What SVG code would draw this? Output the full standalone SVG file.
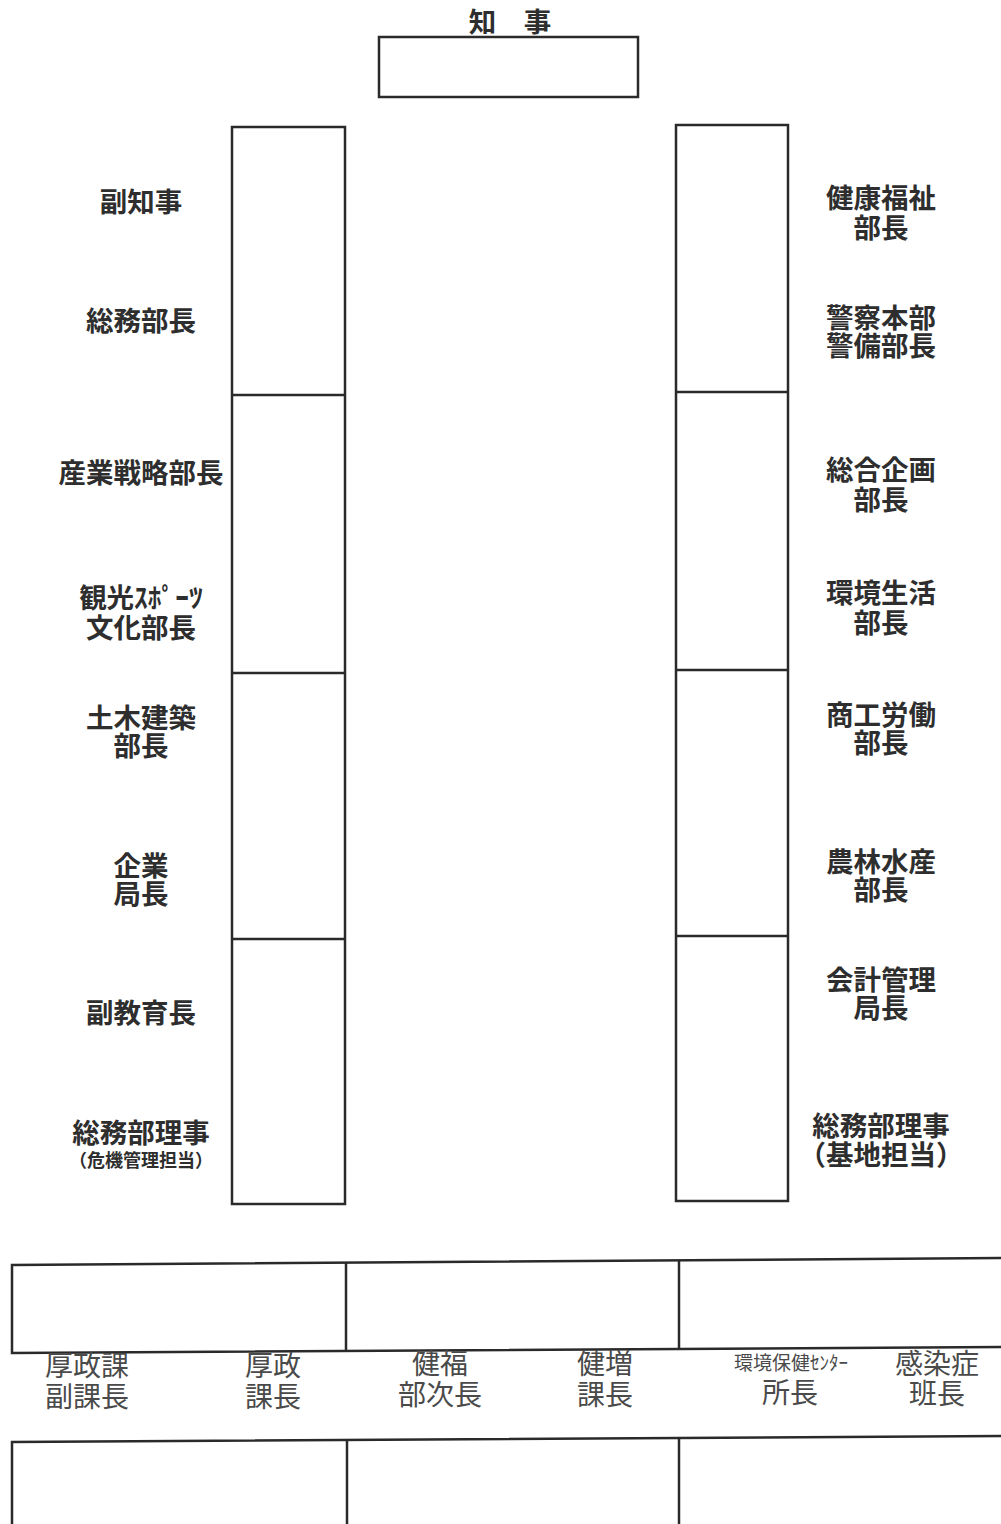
<svg xmlns="http://www.w3.org/2000/svg" width="1001" height="1524" viewBox="0 0 1001 1524">
<style>
.box{fill:none;stroke:#2a2a2a;stroke-width:2.5}
.ln{stroke:#2a2a2a;stroke-width:2.5}
.t{font-family:"Noto Sans CJK JP","Noto Sans",sans-serif;font-size:27.5px;font-weight:700;fill:#2e2e2e;text-anchor:middle}
.s{font-size:18px}
.b{font-family:"Noto Sans CJK JP","Noto Sans",sans-serif;font-size:28px;font-weight:400;fill:#4a4a4a;text-anchor:middle}
.bs{font-size:19px}
</style>
<rect width="1001" height="1524" fill="#fff"/>
<g id="governor">
<text class="t" x="510" y="32">知　事</text>
<rect class="box" x="379" y="37" width="259" height="60"/>
</g>
<g id="left-column">
<rect class="box" x="232" y="127" width="113" height="1077"/>
<line class="ln" x1="232" y1="395" x2="345" y2="395"/>
<line class="ln" x1="232" y1="673" x2="345" y2="673"/>
<line class="ln" x1="232" y1="939" x2="345" y2="939"/>
</g>
<g id="right-column">
<rect class="box" x="676" y="125" width="112" height="1076"/>
<line class="ln" x1="676" y1="392" x2="788" y2="392"/>
<line class="ln" x1="676" y1="670" x2="788" y2="670"/>
<line class="ln" x1="676" y1="936" x2="788" y2="936"/>
</g>
<g id="left-labels">
<text class="t" x="141" y="212">副知事</text>
<text class="t" x="141" y="331">総務部長</text>
<text class="t" x="141" y="483">産業戦略部長</text>
<text class="t" x="141" y="608">観光ｽﾎﾟｰﾂ<tspan x="141" dy="30">文化部長</tspan></text>
<text class="t" x="141" y="728">土木建築<tspan x="141" dy="28">部長</tspan></text>
<text class="t" x="141" y="876">企業<tspan x="141" dy="28">局長</tspan></text>
<text class="t" x="141" y="1023">副教育長</text>
<text class="t" x="141" y="1143">総務部理事<tspan class="s" x="141" dy="24">（危機管理担当）</tspan></text>
</g>
<g id="right-labels">
<text class="t" x="881" y="208">健康福祉<tspan x="881" dy="30">部長</tspan></text>
<text class="t" x="881" y="328">警察本部<tspan x="881" dy="28">警備部長</tspan></text>
<text class="t" x="881" y="480">総合企画<tspan x="881" dy="30">部長</tspan></text>
<text class="t" x="881" y="603">環境生活<tspan x="881" dy="30">部長</tspan></text>
<text class="t" x="881" y="725">商工労働<tspan x="881" dy="28">部長</tspan></text>
<text class="t" x="881" y="872">農林水産<tspan x="881" dy="28">部長</tspan></text>
<text class="t" x="881" y="990">会計管理<tspan x="881" dy="28">局長</tspan></text>
<text class="t" x="881" y="1136">総務部理事<tspan x="881" dy="29">（基地担当）</tspan></text>
</g>
<g id="bottom-tables">
<polyline class="box" points="1003,1258 12,1265 12,1353 1003,1347"/>
<line class="ln" x1="346" y1="1263" x2="346" y2="1351"/>
<line class="ln" x1="679" y1="1261" x2="679" y2="1349"/>
<polyline class="box" points="12,1526 12,1442 1003,1436"/>
<line class="ln" x1="347" y1="1440" x2="347" y2="1526"/>
<line class="ln" x1="679" y1="1438" x2="679" y2="1526"/>
</g>
<g id="bottom-labels">
<text class="b" x="87" y="1376">厚政課<tspan x="87" dy="31">副課長</tspan></text>
<text class="b" x="273" y="1376">厚政<tspan x="273" dy="31">課長</tspan></text>
<text class="b" x="440" y="1374">健福<tspan x="440" dy="31">部次長</tspan></text>
<text class="b" x="605" y="1374">健増<tspan x="605" dy="31">課長</tspan></text>
<text class="b bs" x="791" y="1370">環境保健ｾﾝﾀｰ<tspan style="font-size:28px" x="790" dy="33">所長</tspan></text>
<text class="b" x="937" y="1374">感染症<tspan x="937" dy="30">班長</tspan></text>
</g>
</svg>
